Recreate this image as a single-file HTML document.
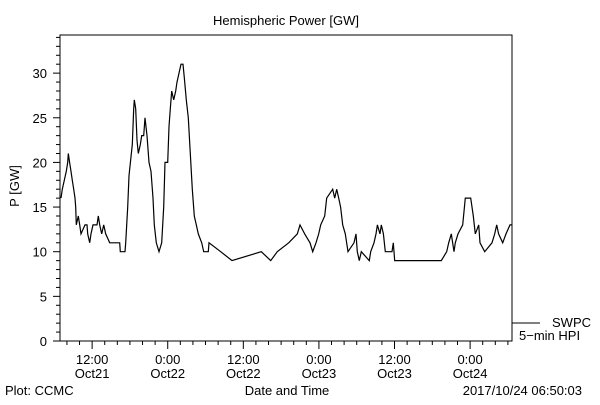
<!DOCTYPE html>
<html><head><meta charset="utf-8"><style>
body{margin:0;background:#fff}
svg text{font-family:"Liberation Sans",sans-serif;font-size:13px;fill:#000}
</style></head><body>
<svg id="chart" width="600" height="400" viewBox="0 0 600 400" xmlns="http://www.w3.org/2000/svg">
<rect width="600" height="400" fill="#fff"/>
<text x="286" y="25" text-anchor="middle" font-size="14">Hemispheric Power [GW]</text>
<text transform="translate(19,186) rotate(-90)" text-anchor="middle">P [GW]</text>
<text x="287" y="395" text-anchor="middle">Date and Time</text>
<text x="5" y="395">Plot: CCMC</text>
<text x="582" y="395" text-anchor="end">2017/10/24 06:50:03</text>
<g>
<line x1="512" y1="323" x2="540" y2="323" stroke="#000"/>
<text x="552" y="327">SWPC</text>
<text x="519" y="340">5−min HPI</text>
</g>
<g id="axes"></g>
<g id="series"></g>
</svg>
<script>
const times=[7.06,7.27,7.58,7.9,8.12,8.22,8.43,8.65,8.86,9.07,9.28,9.39,9.49,9.8,10.03,10.23,10.87,11.19,11.3,11.61,11.82,12.14,12.77,12.98,13.2,13.52,13.84,14.15,14.79,16.38,16.47,17.22,17.33,17.65,17.85,18.07,18.38,18.6,18.7,18.92,19.12,19.33,19.65,19.87,20.18,20.39,20.71,21.03,21.34,21.66,21.87,22.19,22.61,23.04,23.36,23.57,23.99,24.2,24.41,24.63,24.95,25.27,25.47,25.79,26.11,26.42,26.63,26.95,27.27,27.58,27.9,28.22,28.54,28.85,29.39,29.71,30.44,30.55,32.41,34.2,38.85,40.34,41.39,43.2,44.57,45,45.74,46.58,47.01,47.53,47.96,48.28,48.92,49.23,50.19,50.5,50.82,51.14,51.45,51.77,52.19,52.61,53.57,53.88,54.09,54.41,54.73,56,56.22,56.74,57.06,57.28,57.7,57.91,58.23,58.53,59.6,59.8,60.03,67.42,68.28,68.6,69.01,69.44,69.65,70.08,70.82,71.23,72.09,72.5,72.82,73.36,73.57,74.31,75.47,75.9,76.22,76.53,77.17,77.69,78.33,78.65];
const power=[16,17,18,19,20,21,20,19,18,17,16,15,13,14,13,12,13,13,12,11,12,13,13,14,13,12,13,12,11,11,10,10,11,15,18.5,20,22,26,27,26,22.5,21,22,23,23,25,23,20,19,16,13,11,10,11,15,20,20,24,26,28,27,28,29,30,31,31,29.5,27,25,21,17,14,13,12,11,10,10,11,10,9,10,9,10,11,12,13,12,11,10,11,12,13,14,16,17,16,17,16,15,13,12,10,11,12,10,9,10,9,10,11,12,13,12,13,12,10,10,11,9,9,10,11,12,10,11,12,13,16,16,14,12,13,11,10,11,12,13,12,11,12,13,13];
const yTicks=[0,5,10,15,20,25,30];
const xTickHours=[12,24,36,48,60,72];
const xTickLabels=[["12:00","Oct21"],["0:00","Oct22"],["12:00","Oct22"],["0:00","Oct23"],["12:00","Oct23"],["0:00","Oct24"]];
const L=60,R=512,T=35,B=341,H0=6.9,H1=78.65,YMAX=34.27;
const xS=h=>L+(h-H0)/(H1-H0)*(R-L);
const yS=v=>B-v/YMAX*(B-T);
const NS="http://www.w3.org/2000/svg";
function mk(tag,attrs,parent){const e=document.createElementNS(NS,tag);for(const k in attrs)e.setAttribute(k,attrs[k]);parent.appendChild(e);return e;}
const ax=document.getElementById('axes');
const frame=mk('rect',{x:L,y:T,width:R-L,height:B-T,fill:'none',stroke:'#000'},ax);


for(let v=0;v<=34;v++){const y=yS(v);const major=v%5===0;
 const t=mk('line',{x1:L-(major?7:4),x2:L,y1:y,y2:y,stroke:'#000'},ax);
 
 }
yTicks.forEach(v=>{const t=mk('text',{x:L-13,y:yS(v)+5,'text-anchor':'end'},ax);t.textContent=v;
 
 });
for(let h=8;h<=H1;h+=2){const x=xS(h);const major=h%12===0;
 const t=mk('line',{x1:x,x2:x,y1:B,y2:B+(major?8:4),stroke:'#000'},ax);
 
 }
xTickHours.forEach((h,i)=>{const x=xS(h);
 const t1=mk('text',{x:x,y:364,'text-anchor':'middle'},ax);t1.textContent=xTickLabels[i][0];
 
 
 const t2=mk('text',{x:x,y:378,'text-anchor':'middle'},ax);t2.textContent=xTickLabels[i][1];
 
 });
const pts=times.map((h,i)=>xS(h).toFixed(1)+','+yS(power[i]).toFixed(1)).join(' ');
const line=mk('polyline',{points:pts,fill:'none',stroke:'#000','stroke-width':1.2},document.getElementById('series'));


</script>
</body></html>
